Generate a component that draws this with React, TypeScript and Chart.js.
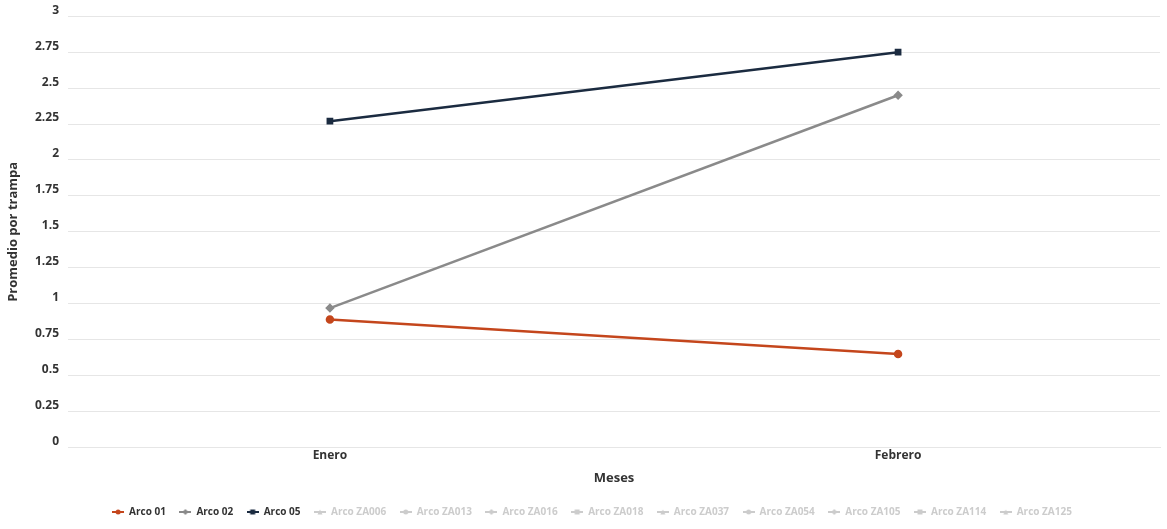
import React, { useEffect, useRef } from "react";
import { Chart, registerables } from "chart.js";

Chart.register(...registerables);

const months = ["Enero", "Febrero"];
const arco01 = [0.89, 0.65];
const arco02 = [0.97, 2.45];
const arco05 = [2.27, 2.75];
const activeNames = ["Arco 01", "Arco 02", "Arco 05"];
const activeColors = ["#c4461c", "#8a8a8a", "#1b2b40"];
const activeMarkers = ["circle", "rectRot", "rect"];
const inactiveNames = [
  "Arco ZA006", "Arco ZA013", "Arco ZA016", "Arco ZA018", "Arco ZA037",
  "Arco ZA054", "Arco ZA105", "Arco ZA114", "Arco ZA125",
];
const inactiveMarkers = ["triangle", "circle", "rectRot", "rect", "triangle", "circle", "rectRot", "rect", "triangle"];
const yTickValues = [0, 0.25, 0.5, 0.75, 1, 1.25, 1.5, 1.75, 2, 2.25, 2.5, 2.75, 3];

function legendSymbol(color: string, marker: string): HTMLCanvasElement {
  const c = document.createElement("canvas");
  const w = 12, h = 8;
  c.width = w; c.height = h;
  const g = c.getContext("2d")!;
  g.strokeStyle = color; g.fillStyle = color; g.lineWidth = 2;
  g.beginPath(); g.moveTo(0, h / 2); g.lineTo(w, h / 2); g.stroke();
  const cx = w / 2, cy = h / 2, r = 2.5;
  g.beginPath();
  if (marker === "circle") g.arc(cx, cy, r, 0, Math.PI * 2);
  else if (marker === "rect") g.rect(cx - r, cy - r, 2 * r, 2 * r);
  else if (marker === "rectRot") { g.moveTo(cx, cy - r - 0.5); g.lineTo(cx + r + 0.5, cy); g.lineTo(cx, cy + r + 0.5); g.lineTo(cx - r - 0.5, cy); g.closePath(); }
  else { g.moveTo(cx, cy - r); g.lineTo(cx + r, cy + r); g.lineTo(cx - r, cy + r); g.closePath(); }
  g.fill();
  return c;
}

function toPoints(vals: number[]) {
  return vals.map((v, i) => ({ x: i, y: v }));
}

const legendShift = {
  id: "legendShift",
  afterLayout(chart: any) {
    const l = chart.legend;
    if (l) {
      l.left += 12;
      l.right += 12;
    }
  },
};

export default function App() {
  const ref = useRef<HTMLCanvasElement>(null);
  useEffect(() => {
    if (!ref.current) return;
    const activeData = [arco01, arco02, arco05];
    const datasets: any[] = activeNames.map((name, i) => ({
      label: name,
      data: toPoints(activeData[i]),
      borderColor: activeColors[i],
      backgroundColor: activeColors[i],
      borderWidth: 2.5,
      pointStyle: activeMarkers[i],
      pointRadius: 3,
      pointHoverRadius: 3,
      tension: 0,
    }));
    inactiveNames.forEach((name, i) => {
      datasets.push({
        label: name,
        data: [],
        borderColor: "#cccccc",
        backgroundColor: "#cccccc",
        pointStyle: inactiveMarkers[i],
      });
    });
    const symbols = datasets.map((d) => legendSymbol(d.borderColor, d.pointStyle));

    const chart = new Chart(ref.current, {
      type: "line",
      data: { datasets },
      plugins: [legendShift],
      options: {
        animation: false,
        responsive: true,
        maintainAspectRatio: false,
        layout: { padding: { top: 13, right: 7, left: 0, bottom: 2 } },
        plugins: {
          tooltip: { enabled: false },
          legend: {
            position: "bottom",
            onClick: () => {},
            labels: {
              usePointStyle: true,
              pointStyleWidth: 12,
              padding: 13.5,
              color: "#333333",
              font: { family: "'Open Sans', sans-serif", size: 10, weight: "bold" },
              generateLabels: (ch: any) =>
                ch.data.datasets.map((d: any, i: number) => ({
                  text: d.label,
                  fillStyle: d.borderColor,
                  strokeStyle: d.borderColor,
                  lineWidth: 0,
                  pointStyle: symbols[i],
                  hidden: false,
                  fontColor: i < activeNames.length ? "#333333" : "#cccccc",
                  datasetIndex: i,
                })),
            },
          },
        },
        scales: {
          x: {
            type: "linear",
            min: -0.461,
            max: 1.461,
            afterBuildTicks: (scale: any) => {
              scale.ticks = months.map((_, i) => ({ value: i }));
            },
            grid: { display: true, drawOnChartArea: false, drawTicks: false },
            border: { display: true, color: "#e6e6e6", width: 1 },
            ticks: {
              padding: 1,
              color: "#333333",
              font: { family: "'Open Sans', sans-serif", size: 12, weight: "bold" },
              callback: (v: any) => months[Math.round(Number(v))] ?? "",
              maxRotation: 0,
            },
            title: {
              display: true,
              text: "Meses",
              color: "#333333",
              font: { family: "'Open Sans', sans-serif", size: 13, weight: "bold" },
              padding: { top: 7, bottom: 7 },
            },
          },
          y: {
            min: 0,
            max: 3,
            afterBuildTicks: (scale: any) => {
              scale.ticks = yTickValues.map((v) => ({ value: v }));
            },
            afterFit: (scale: any) => {
              scale.width = 68;
            },
            grid: { color: "#e6e6e6", drawTicks: false },
            border: { display: false },
            ticks: {
              padding: 9,
              labelOffset: -6,
              color: "#333333",
              font: { family: "'Open Sans', sans-serif", size: 12, weight: "bold" },
              callback: (v: any) => String(v),
            },
            title: {
              display: true,
              text: "Promedio por trampa",
              color: "#333333",
              font: { family: "'Open Sans', sans-serif", size: 13, weight: "bold" },
              padding: { top: 5, bottom: 0 },
            },
          },
        },
      },
    });
    return () => chart.destroy();
  }, []);

  return (
    <div style={{ position: "absolute", left: 0, top: 0, width: 1167, height: 529, background: "#ffffff" }}>
      <canvas ref={ref} />
    </div>
  );
}
